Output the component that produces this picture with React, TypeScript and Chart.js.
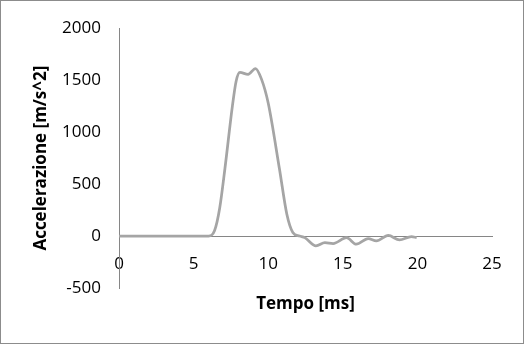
import React, { useEffect, useRef } from "react";
import { Chart, registerables } from "chart.js";

Chart.register(...registerables);

const timeMs = [0, 2, 4, 6.0, 6.4, 6.75, 7.1, 7.6, 7.85, 8.1, 8.65, 9.15, 9.55, 10.0, 10.75, 11.25, 11.65, 12.1, 12.45, 13.2, 13.8, 14.35, 15.25, 15.9, 16.7, 17.25, 18.05, 18.8, 19.6, 19.95];
const accel = [0, 0, 0, 0, 50, 270, 650, 1250, 1490, 1575, 1555, 1612, 1510, 1280, 650, 210, 35, 0, -15, -94, -63, -72, -16, -79, -25, -47, 6, -38, -6, -15];

const xTitle = "Tempo [ms]";
const yTitle = "Accelerazione [m/s^2]";
const xMin = 0, xMax = 25, xStep = 5;
const yMin = -500, yMax = 2000, yStep = 500;

const FONT = "'Open Sans', sans-serif";
const AXIS = "#868686";

const borderPlugin = {
  id: "outerBorder",
  afterDraw(chart: any) {
    const ctx = chart.ctx;
    ctx.save();
    ctx.strokeStyle = "#8c8c8c";
    ctx.lineWidth = 1;
    ctx.strokeRect(0.5, 0.5, chart.width - 1, chart.height - 1);
    ctx.restore();
  },
};

export default function App() {
  const ref = useRef<HTMLCanvasElement | null>(null);

  useEffect(() => {
    document.body.style.margin = "0";
    const canvas = ref.current;
    if (!canvas) return;
    const chart = new Chart(canvas, {
      type: "line",
      data: {
        datasets: [
          {
            data: timeMs.map((t, i) => ({ x: t, y: accel[i] })),
            borderColor: "#a5a5a5",
            borderWidth: 2.75,
            pointRadius: 0,
            fill: false,
            cubicInterpolationMode: "monotone",
          },
        ],
      },
      options: {
        animation: false,
        responsive: false,
        devicePixelRatio: 1,
        layout: { padding: { left: 0, top: 23, right: 32, bottom: 56 } },
        plugins: { legend: { display: false }, tooltip: { enabled: false } },
        scales: {
          x: {
            type: "linear",
            position: { y: 0 },
            min: xMin,
            max: xMax,
            border: { display: true, color: AXIS, width: 1 },
            grid: { display: false, drawTicks: false },
            ticks: {
              stepSize: xStep,
              padding: 18,
              color: "#000",
              font: { family: FONT, size: 17 },
              maxRotation: 0,
              callback: (v: any) => String(v),
            },
            title: {
              display: true,
              text: xTitle,
              color: "#000",
              font: { family: FONT, size: 17, weight: "bold" },
              padding: { top: 0, bottom: -78 },
            },
            afterFit(scale: any) {
              scale.height = 0;
            },
          },
          y: {
            type: "linear",
            position: "left",
            min: yMin,
            max: yMax,
            border: { display: true, color: AXIS, width: 1 },
            grid: { display: false, drawTicks: false },
            ticks: {
              stepSize: yStep,
              padding: 18,
              color: "#000",
              font: { family: FONT, size: 17 },
              callback: (v: any) => String(v),
            },
            title: {
              display: true,
              text: yTitle,
              color: "#000",
              font: { family: FONT, size: 17, weight: "bold" },
              padding: { top: 31, bottom: 0 },
            },
            afterFit(scale: any) {
              scale.width = 119;
            },
          },
        },
      },
      plugins: [borderPlugin],
    } as any);
    return () => chart.destroy();
  }, []);

  return <canvas ref={ref} width={524} height={344} style={{ display: "block" }} />;
}
